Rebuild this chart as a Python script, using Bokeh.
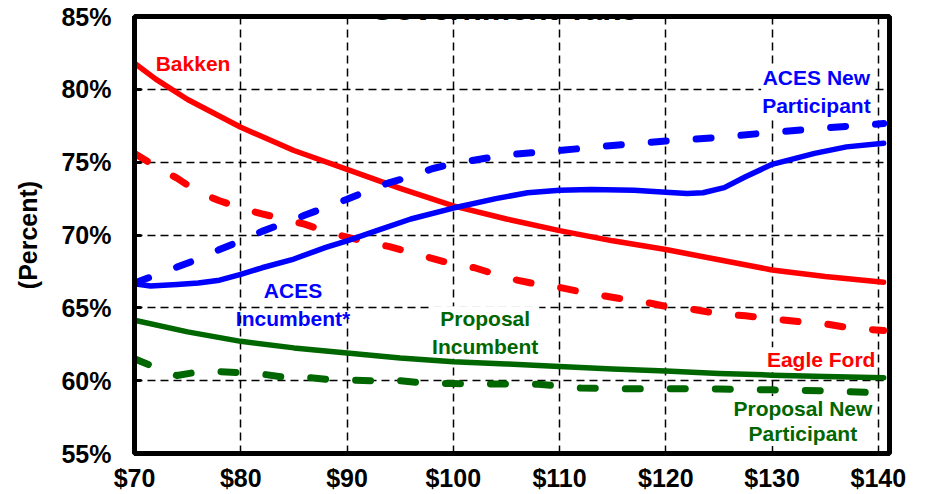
from bokeh.plotting import figure
from bokeh.models import Range1d, Label
from bokeh.embed import file_html
from bokeh.resources import INLINE
from bokeh.core.properties import value

FONT = "Liberation Sans"
RED = "#FF0000"
BLUE = "#0000FF"
GREEN = "#006600"

# ---- data -------------------------------------------------------------
x_ticks = [70, 80, 90, 100, 110, 120, 130, 140]
x_tick_labels = ["$70", "$80", "$90", "$100", "$110", "$120", "$130", "$140"]
y_ticks = [55, 60, 65, 70, 75, 80, 85]
y_tick_labels = ["55%", "60%", "65%", "70%", "75%", "80%", "85%"]

bakken_x = [70, 72, 75, 80, 85, 90, 95, 100, 105, 110, 115, 120, 125, 130, 135, 140.5]
bakken_y = [81.8, 80.7, 79.3, 77.4, 75.8, 74.5, 73.2, 72.0, 71.1, 70.3, 69.6, 69.0, 68.3, 67.6, 67.15, 66.75]

eagle_x = [70, 72, 74, 76, 78, 80, 82, 84, 86, 88, 90, 92, 94, 96, 98, 100, 102, 104,
           106, 108, 110, 112, 114, 116, 118, 120, 122.5, 125, 127.5, 130, 132.5, 135,
           137.5, 140.5]
eagle_y = [75.6, 74.7, 73.9, 72.95, 72.35, 71.85, 71.45, 71.1, 70.75, 70.25, 69.85, 69.5,
           69.2, 68.8, 68.4, 68.0, 67.75, 67.3, 66.9, 66.6, 66.4, 66.1, 65.85, 65.6, 65.4,
           65.1, 64.9, 64.6, 64.45, 64.25, 64.05, 63.9, 63.6, 63.45]

aces_new_x = [70, 72, 74, 76, 78, 80, 82, 84, 86, 88, 90, 92, 94, 96, 98, 100, 105, 110,
              115, 120, 125, 130, 135, 140.5]
aces_new_y = [66.7, 67.25, 67.8, 68.35, 69.0, 69.6, 70.25, 70.8, 71.35, 71.9, 72.45, 73.05,
              73.6, 74.0, 74.55, 74.9, 75.5, 75.8, 76.15, 76.45, 76.7, 77.05, 77.35, 77.65]

aces_inc_x = [70, 71.5, 74, 76, 78, 80, 82, 85, 88, 90, 93, 96, 100, 104, 107, 110, 113,
              117, 120, 122, 123.5, 125.5, 127.5, 130, 134, 137, 140.5]
aces_inc_y = [66.65, 66.5, 66.6, 66.7, 66.9, 67.3, 67.75, 68.35, 69.15, 69.6, 70.35, 71.1,
              71.85, 72.5, 72.9, 73.07, 73.12, 73.07, 72.93, 72.85, 72.9, 73.25, 74.0, 74.85,
              75.6, 76.05, 76.3]

prop_inc_x = [70, 75, 80, 85, 90, 95, 100, 105, 110, 115, 120, 125, 130, 135, 140.5]
prop_inc_y = [64.15, 63.35, 62.7, 62.25, 61.9, 61.55, 61.3, 61.15, 60.98, 60.8, 60.66, 60.5,
              60.38, 60.28, 60.2]

prop_new_x = [70, 72, 74, 76, 78, 80, 82, 84, 86, 88, 90, 93, 95, 97, 100, 105, 108, 110,
              112, 115, 120, 125, 130, 135, 140.5]
prop_new_y = [61.5, 60.9, 60.35, 60.6, 60.62, 60.55, 60.45, 60.25, 60.25, 60.1, 60.05, 59.98,
              60.0, 59.85, 59.8, 59.77, 59.75, 59.65, 59.5, 59.45, 59.45, 59.42, 59.37, 59.3,
              59.15]

# ---- figure -----------------------------------------------------------
p = figure(width=926, height=494, x_range=Range1d(70, 141.05), y_range=Range1d(55, 85),
           output_backend="svg", toolbar_location=None,
           min_border_left=134, min_border_right=37, min_border_top=16, min_border_bottom=37)
p.styles = {"position": "absolute", "left": "0px", "top": "0px"}
p.background_fill_color = "white"
p.border_fill_color = "white"
p.outline_line_color = "black"
p.outline_line_width = 5
p.outline_line_alpha = 1

p.xaxis.ticker = x_ticks
p.yaxis.ticker = y_ticks
p.xaxis.major_label_overrides = {t: l for t, l in zip(x_ticks, x_tick_labels)}
p.yaxis.major_label_overrides = {t: l for t, l in zip(y_ticks, y_tick_labels)}
for ax in (p.xaxis[0], p.yaxis[0]):
    ax.major_label_text_font = FONT
    ax.major_label_text_font_style = "bold"
    ax.major_label_text_font_size = "25px"
    ax.major_label_text_color = "black"
    ax.axis_line_color = "black"
    ax.axis_line_width = 5
    ax.minor_tick_line_color = None
p.xaxis.major_tick_line_color = None
p.xaxis.major_label_standoff = 4
p.yaxis.major_tick_in = 7
p.yaxis.major_tick_out = 0
p.yaxis.major_tick_line_width = 3
p.yaxis.major_label_standoff = 23

p.yaxis.axis_label = "(Percent)"
p.yaxis.axis_label_text_font = FONT
p.yaxis.axis_label_text_font_style = "bold"
p.yaxis.axis_label_text_font_size = "25px"
p.yaxis.axis_label_text_color = "black"
p.yaxis.axis_label_standoff = 16

p.grid.grid_line_color = "black"
p.grid.grid_line_width = 1.5
p.grid.grid_line_dash = "8 5"

# ---- in-plot labels (white boxes under the curves) --------------------
def tag(x, y, txt, color, baseline="middle", lh=1.2, box=True):
    kw = dict(text_color=color, text_font=value(FONT), text_font_style="bold",
              text_font_size="21px", text_align="center", text_baseline=baseline,
              text_line_height=lh)
    if box:
        kw.update(background_fill_color="white", padding=1)
    p.text(x=[x], y=[y], text=[txt], **kw)

tag(75.51, 81.77, "Bakken", RED, baseline="alphabetic", box=False)
tag(134.17, 79.84, "ACES New\nParticipant", BLUE)
tag(84.92, 65.23, "ACES\nIncumbent*", BLUE, box=False)
tag(103.0, 63.31, "Proposal\nIncumbent", GREEN)
tag(134.62, 61.44, "Eagle Ford", RED, baseline="alphabetic")
tag(132.9, 57.23, "Proposal New\nParticipant", GREEN, lh=1.08)

# ---- curves -----------------------------------------------------------
solid = dict(line_width=5.5, line_cap="round", line_join="round")
dashed = dict(line_width=7, line_cap="round", line_join="round", line_dash="15 30")
p.line(prop_new_x, prop_new_y, line_color=GREEN, **dashed)
p.line(prop_inc_x, prop_inc_y, line_color=GREEN, **solid)
p.line(eagle_x, eagle_y, line_color=RED, **dashed)
p.line(bakken_x, bakken_y, line_color=RED, **solid)
p.line(aces_new_x, aces_new_y, line_color=BLUE, **dashed)
p.line(aces_inc_x, aces_inc_y, line_color=BLUE, **solid)

# ---- title (cropped at the top edge, as in the reference) -------------
p.add_layout(Label(x=104.75, y=85.52, text="Government Take", text_font=FONT,
                   text_font_style="bold", text_font_size="32px", text_color="black",
                   text_align="center", text_baseline="alphabetic"))

open("out.html", "w").write(file_html(p, INLINE))
